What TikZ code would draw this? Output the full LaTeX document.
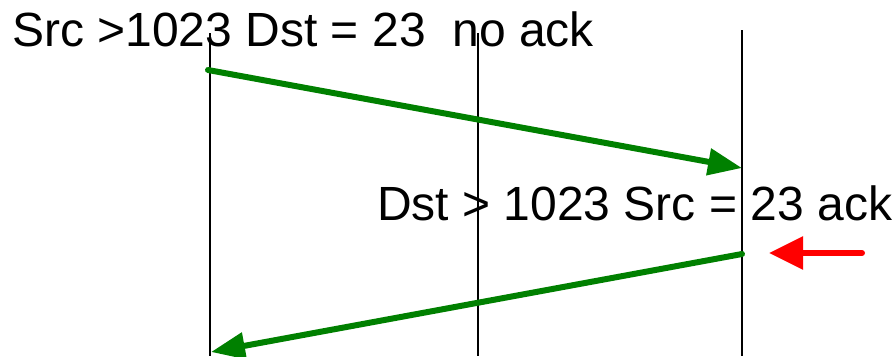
\documentclass[tikz,border=0pt]{standalone}
\usepackage{fontspec}
\setmainfont{Liberation Sans}
\usetikzlibrary{arrows.meta}
\definecolor{dgreen}{RGB}{0,128,0}
\definecolor{ared}{RGB}{255,0,0}
\begin{document}
\begin{tikzpicture}[x=1pt,y=-1pt,
  lbl/.style={anchor=base west,inner sep=0pt,font=\fontsize{48}{56}\selectfont},
  vline/.style={line width=1.5pt,black},
  msg/.style={line width=6pt,dgreen,line cap=round,-{Triangle[length=34pt,width=26pt]}}]
\useasboundingbox (0,0) rectangle (894,356);
\node[lbl] (t1) at (12,46) {Src >1023 Dst = 23\ \ no ack};
\node[lbl] (t2) at (377,220) {Dst > 1023 Src = 23 ack};
\coordinate (a1) at (210,33); \coordinate (a2) at (210,356);
\coordinate (b1) at (478,33); \coordinate (b2) at (478,356);
\coordinate (c1) at (742,30); \coordinate (c2) at (742,356);
\draw[vline] (a1) -- (a2);
\draw[vline] (b1) -- (b2);
\draw[vline] (c1) -- (c2);
\coordinate (m1s) at (208,70); \coordinate (m1e) at (742,168);
\coordinate (m2s) at (742,254); \coordinate (m2e) at (211,352);
\draw[msg] (m1s) -- (m1e);
\draw[msg] (m2s) -- (m2e);
\coordinate (rs) at (862,253); \coordinate (re) at (769,253);
\draw[line width=6pt,ared,line cap=round,-{Triangle[length=34pt,width=32pt]}] (rs) -- (re);
\end{tikzpicture}
\end{document}
